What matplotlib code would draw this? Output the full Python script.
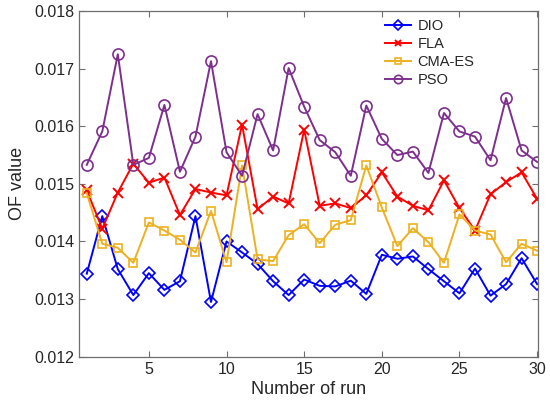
import matplotlib
matplotlib.use("Agg")
import matplotlib.pyplot as plt
import numpy as np

runs = list(range(1, 31))
dio = [0.01344, 0.01444, 0.01352, 0.01307, 0.01345, 0.01316, 0.01331, 0.01444, 0.01295, 0.01400,
       0.01381, 0.01361, 0.01331, 0.01307, 0.01334, 0.01323, 0.01322, 0.01332, 0.01309, 0.01377,
       0.01370, 0.01374, 0.01352, 0.01331, 0.01310, 0.01353, 0.01306, 0.01326, 0.01371, 0.01326]
fla = [0.01489, 0.01422, 0.01485, 0.01535, 0.01502, 0.01511, 0.01446, 0.01491, 0.01485, 0.01480,
       0.01603, 0.01456, 0.01478, 0.01466, 0.01594, 0.01462, 0.01466, 0.01458, 0.01480, 0.01520,
       0.01478, 0.01462, 0.01454, 0.01506, 0.01458, 0.01419, 0.01482, 0.01503, 0.01520, 0.01474]
cma = [0.01484, 0.01396, 0.01389, 0.01363, 0.01433, 0.01419, 0.01403, 0.01381, 0.01453, 0.01364,
       0.01532, 0.01369, 0.01366, 0.01411, 0.01430, 0.01397, 0.01429, 0.01437, 0.01532, 0.01459,
       0.01392, 0.01423, 0.01399, 0.01363, 0.01447, 0.01419, 0.01412, 0.01364, 0.01396, 0.01384]
pso = [0.01533, 0.01591, 0.01725, 0.01533, 0.01545, 0.01637, 0.01521, 0.01582, 0.01713, 0.01555,
       0.01514, 0.01621, 0.01558, 0.01701, 0.01634, 0.01576, 0.01555, 0.01514, 0.01636, 0.01578,
       0.01550, 0.01556, 0.01519, 0.01623, 0.01591, 0.01582, 0.01541, 0.01649, 0.01558, 0.01538]
labels = ["DIO", "FLA", "CMA-ES", "PSO"]
xticks = [5, 10, 15, 20, 25, 30]
yticks = [0.012, 0.013, 0.014, 0.015, 0.016, 0.017, 0.018]

plt.rcParams['font.family'] = ['Liberation Sans', 'DejaVu Sans']

fig = plt.figure(figsize=(5.5, 4.08), dpi=100)
ax = fig.add_axes([0.1436, 0.1257, 0.8344, 0.8473])

ax.plot(runs, dio, color='#0000FF', marker='D', markersize=6.5, markerfacecolor='none',
        markeredgewidth=1.2, linewidth=1.4, label=labels[0])
ax.plot(runs, fla, color='#FF0000', marker='x', markersize=6.5, markeredgewidth=1.4,
        linewidth=1.4, label=labels[1])
ax.plot(runs, cma, color='#EDB120', marker='s', markersize=5.5, markerfacecolor='none',
        markeredgewidth=1.2, linewidth=1.4, label=labels[2])
ax.plot(runs, pso, color='#7E2F8E', marker='o', markersize=8, markerfacecolor='none',
        markeredgewidth=1.2, linewidth=1.4, label=labels[3])

ax.set_xlim(0.5, 30.05)
ax.set_ylim(0.012, 0.018)
ax.set_xticks(xticks)
ax.set_yticks(yticks)
ax.set_yticklabels([f"{v:.3f}" for v in yticks])
axcol = '#262626'
for s in ax.spines.values():
    s.set_color('#6e6e6e')
    s.set_linewidth(0.9)
ax.tick_params(direction='in', top=True, right=True, length=4, width=0.8,
               colors='#6e6e6e', labelcolor=axcol, labelsize=11.5)
ax.set_xlabel("Number of run", fontsize=13, color=axcol, labelpad=3)
ax.set_ylabel("OF value", fontsize=13, color=axcol, labelpad=6)

leg = ax.legend(loc='upper left', bbox_to_anchor=(0.655, 0.994), frameon=False,
                fontsize=10.5, handlelength=1.75, handletextpad=0.45, labelspacing=0.27,
                borderaxespad=0.0, markerscale=0.75)
for t in leg.get_texts():
    t.set_color(axcol)

fig.savefig("out.png", dpi=100)
